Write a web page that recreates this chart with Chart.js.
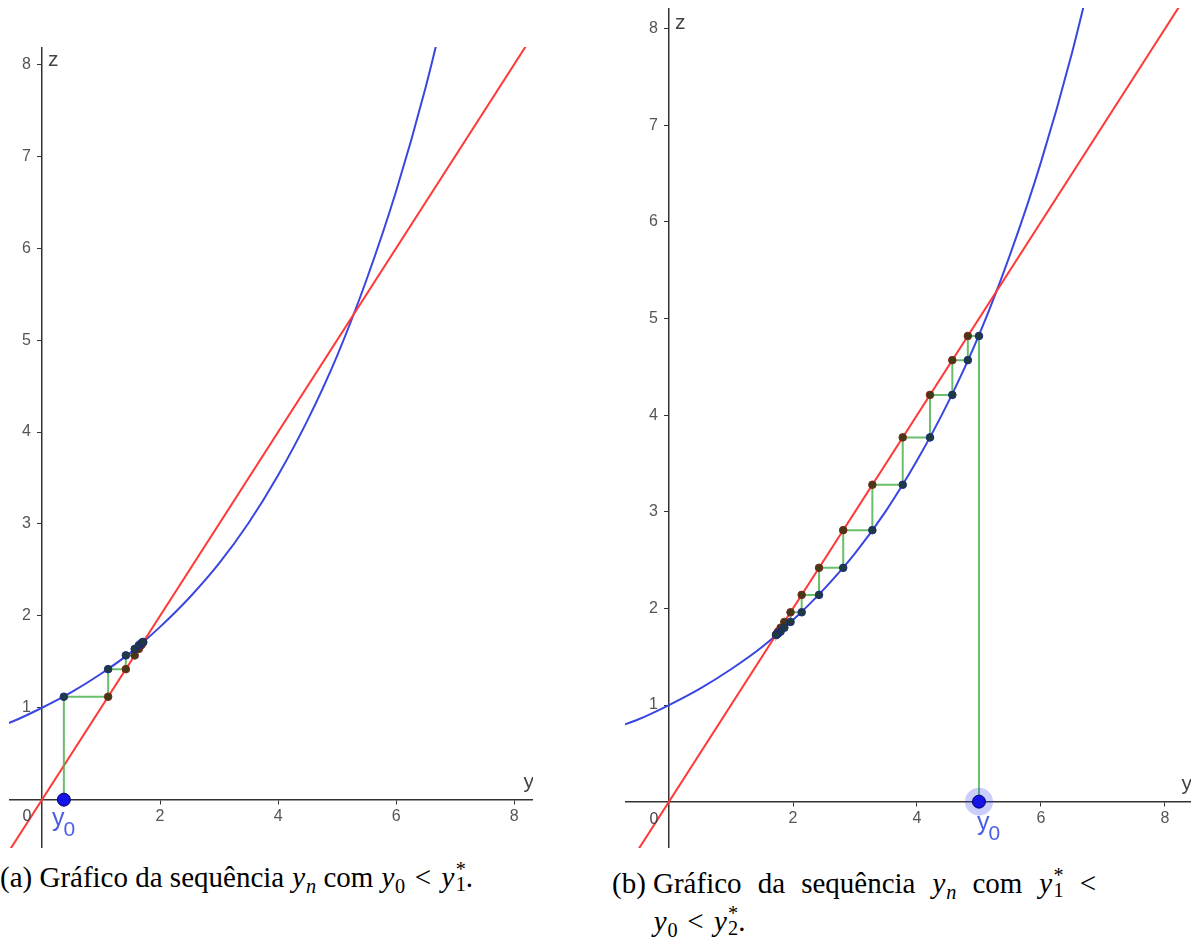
<!DOCTYPE html>
<html>
<head>
<meta charset="utf-8">
<script src="https://cdn.jsdelivr.net/npm/chart.js@4.4.1/dist/chart.umd.min.js"></script>
<style>
  body { margin: 0; background: #fff; width: 1191px; height: 937px; overflow: hidden; position: relative; }
  canvas { position: absolute; }
  .cap { position: absolute; font-family: "Liberation Serif", "Times New Roman", serif; font-size: 29px; color: #000; white-space: nowrap; line-height: 34px; }
  .v { font-style: italic; margin-left: 0.03em; }
  .sb { font-size: 70%; position: relative; top: 0.28em; margin-left: 0.04em; }
  .ss { display: inline-block; vertical-align: -0.22em; font-size: 70%; line-height: 0.78; margin-left: 0.06em; }
  .ss span { display: block; }
  .lt { margin: 0 0.33em; }
</style>
</head>
<body>
<canvas id="ga" width="524" height="801" style="left:9px;top:47px"></canvas>
<canvas id="gb" width="566" height="840" style="left:625px;top:8px"></canvas>

<div class="cap" style="left:0px;top:860px">(a) Gráfico da sequência <span class="v">y</span><span class="sb v">n</span> com <span class="v">y</span><span class="sb">0</span><span class="lt">&lt;</span><span class="v">y</span><span class="ss"><span>*</span><span>1</span></span>.</div>
<div class="cap" style="left:612px;top:866px">(b)</div>
<div class="cap" style="left:653px;top:866px;width:443px;text-align:justify;text-align-last:justify;white-space:normal">Gráfico da sequência <span class="v">y</span><span class="sb v">n</span> com <span class="v">y</span><span class="ss"><span>*</span><span>1</span></span> &lt;</div>
<div class="cap" style="left:653px;top:904px"><span class="v">y</span><span class="sb">0</span><span class="lt">&lt;</span><span class="v">y</span><span class="ss"><span>*</span><span>2</span></span>.</div>

<script>
// curva azul z = f(y)
const curvaY = [-0.8, -0.5, 0, 0.5, 1, 1.5, 2, 2.5, 3, 3.5, 4, 4.5, 5, 5.5, 6, 6.5, 7];
const curvaZ = [0.78, 0.85, 1, 1.17, 1.37, 1.60, 1.88, 2.20, 2.57, 3.01, 3.53, 4.13, 4.83, 5.66, 6.62, 7.75, 9.07];

// reta vermelha z = y
const retaY = [-1, 9];

// sequencias y_n de cada painel
const seqA = [0.37, 1.12, 1.42, 1.57, 1.64, 1.68, 1.70, 1.71, 1.715];
const seqB = [5, 4.82, 4.57, 4.21, 3.77, 3.28, 2.81, 2.42, 2.14, 1.96, 1.86, 1.80, 1.76, 1.74, 1.73, 1.725];

// marcas dos eixos
const ticksY = [2, 4, 6, 8];
const ticksZ = [1, 2, 3, 4, 5, 6, 7, 8];

function escada(seq) {
    const pts = [{x: seq[0], y: 0}];
    for (let i = 0; i < seq.length - 1; i++) {
        pts.push({x: seq[i], y: seq[i + 1]});
        pts.push({x: seq[i + 1], y: seq[i + 1]});
    }
    return pts;
}

function semPadding(scale) {
    scale.paddingTop = 0;
    scale.paddingBottom = 0;
    scale.paddingLeft = 0;
    scale.paddingRight = 0;
}

// textos: 0 na origem, nomes dos eixos e rotulo y0
const rotulos = {
    id: 'rotulos',
    afterDraw(chart) {
        const o = chart.options.plugins.rotulos;
        const ctx = chart.ctx;
        const area = chart.chartArea;
        const x0 = chart.scales.x.getPixelForValue(0);
        const z0 = chart.scales.y.getPixelForValue(0);
        ctx.save();
        ctx.fillStyle = '#444';
        ctx.textBaseline = 'alphabetic';
        ctx.font = '16px "Liberation Sans", Arial, sans-serif';
        ctx.textAlign = 'center';
        ctx.fillText('0', x0 + o.zero[0], z0 + o.zero[1]);
        ctx.font = '21px "Liberation Sans", Arial, sans-serif';
        ctx.textAlign = 'right';
        ctx.fillText('y', area.right + 1, z0 - 12);
        ctx.textAlign = 'left';
        ctx.fillText('z', x0 + 6, area.top + o.zTop);

        // rotulo do ponto inicial
        const px = chart.scales.x.getPixelForValue(o.seq[0]);
        ctx.fillStyle = '#4d5ee6';
        ctx.font = '25px "Liberation Sans", Arial, sans-serif';
        ctx.fillText('y', px + o.y0[0], z0 + o.y0[1]);
        const w = ctx.measureText('y').width;
        ctx.font = '21px "Liberation Sans", Arial, sans-serif';
        ctx.fillText('0', px + o.y0[0] + w - 1, z0 + o.y0[1] + 10);
        ctx.restore();
    }
};

function criaGrafico(id, seq, lim, extra) {
    const naCurva = seq.slice(0, -1).map((v, i) => ({x: v, y: seq[i + 1]}));
    const naReta = seq.slice(1).map(v => ({x: v, y: v}));

    const datasets = [
        {
            data: [{x: seq[0], y: 0}],
            pointRadius: 6.5,
            backgroundColor: '#1414e6',
            borderColor: '#000066',
            borderWidth: 1
        },
        {
            data: naCurva,
            pointRadius: 3.8,
            backgroundColor: '#1f3b40',
            borderColor: '#1c2a80',
            borderWidth: 1
        },
        {
            data: naReta,
            pointRadius: 3.8,
            backgroundColor: '#473818',
            borderColor: '#7a2a1a',
            borderWidth: 1
        },
        {
            data: escada(seq),
            showLine: true,
            pointRadius: 0,
            borderColor: 'rgba(80,180,80,0.85)',
            borderWidth: 2
        },
        {
            data: retaY.map(v => ({x: v, y: v})),
            showLine: true,
            pointRadius: 0,
            borderColor: '#ff3838',
            borderWidth: 2
        },
        {
            data: curvaY.map((v, i) => ({x: v, y: curvaZ[i]})),
            showLine: true,
            pointRadius: 0,
            cubicInterpolationMode: 'monotone',
            borderColor: '#3a46e0',
            borderWidth: 2
        }
    ];

    if (extra.halo) {
        // destaque do ponto selecionado
        datasets.splice(1, 0, {
            data: [{x: seq[0], y: 0}],
            pointRadius: 14,
            backgroundColor: 'rgba(70,80,240,0.28)',
            borderWidth: 0
        });
    }

    const fonte = {family: '"Liberation Sans", Arial, sans-serif', size: 16};

    return new Chart(document.getElementById(id), {
        type: 'scatter',
        data: {datasets: datasets},
        options: {
            responsive: false,
            animation: false,
            devicePixelRatio: 1,
            layout: {padding: 0, autoPadding: false},
            plugins: {
                legend: {display: false},
                tooltip: {enabled: false},
                rotulos: {seq: seq, zero: extra.zero, y0: extra.y0, zTop: extra.zTop}
            },
            scales: {
                x: {
                    type: 'linear',
                    min: lim.xmin,
                    max: lim.xmax,
                    position: {y: 0},
                    grid: {drawOnChartArea: false, drawTicks: true, tickLength: 4, color: '#333'},
                    border: {color: '#333', width: 1.5},
                    ticks: {color: '#555', font: fonte, padding: 3},
                    afterBuildTicks: s => { s.ticks = ticksY.map(v => ({value: v})); },
                    afterFit: semPadding
                },
                y: {
                    type: 'linear',
                    min: lim.zmin,
                    max: lim.zmax,
                    position: {x: 0},
                    grid: {drawOnChartArea: false, drawTicks: true, tickLength: 4, color: '#333'},
                    border: {color: '#333', width: 1.5},
                    ticks: {color: '#555', font: fonte, padding: 3, callback: v => v + '\u2002\u2009'},
                    afterBuildTicks: s => { s.ticks = ticksZ.map(v => ({value: v})); },
                    afterFit: semPadding
                }
            }
        },
        plugins: [rotulos]
    });
}

criaGrafico('ga', seqA,
    {xmin: -0.56, xmax: 8.32, zmin: -0.526, zmax: 8.19},
    {zero: [-15, 21], y0: [-12, 26], zTop: 19, halo: false});

criaGrafico('gb', seqB,
    {xmin: -0.71, xmax: 8.42, zmin: -0.48, zmax: 8.215},
    {zero: [-15, 22], y0: [-2, 28], zTop: 21, halo: true});
</script>
</body>
</html>
